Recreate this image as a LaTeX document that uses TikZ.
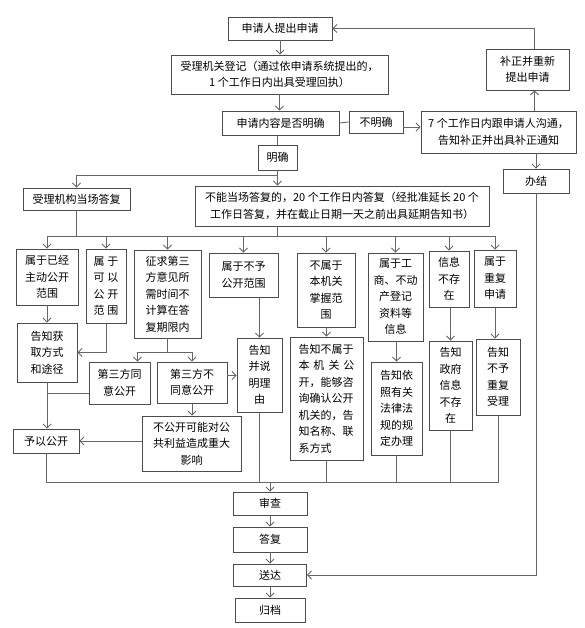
\documentclass[tikz,border=0pt]{standalone}
\usepackage{fontspec}
\newfontfamily\cjk{Noto Sans CJK SC}
\usetikzlibrary{arrows.meta,positioning,calc}

\begin{document}
\begin{tikzpicture}[
    x=1pt, y=-1pt,
    % box and connector styles
    box/.style={rectangle, draw=black!70, line width=0.9pt, fill=white, inner sep=0pt, align=center, font=\cjk\fontsize{11}{16.5}\selectfont},
    link/.style={draw=black!60, line width=0.9pt},
    flow/.style={link, -{Straight Barb[length=4pt, width=8pt]}}
]
\useasboundingbox (0,0) rectangle (585,628);

% Application and registration
\node[box, minimum width=104pt, minimum height=23pt] (apply) at (280,28.5) {申请人提出申请};
\node[box, minimum width=217pt, minimum height=39pt] (register) at (279.5,74.5) {受理机关登记（通过依申请系统提出的，\\1 个工作日内出具受理回执）};
\node[box, minimum width=117pt, minimum height=24pt] (clear) at (280.5,123) {申请内容是否明确};
\node[box, minimum width=54pt, minimum height=22pt] (unclear) at (376,122) {不明确};
\node[box, minimum width=155pt, minimum height=42pt] (notify7) at (498.5,132) {7 个工作日内跟申请人沟通，\\告知补正并出具补正通知};
\node[box, minimum width=83pt, minimum height=41pt] (resubmit) at (527.5,69.5) {补正并重新\\提出申请};
\node[box, minimum width=66pt, minimum height=24pt] (close) at (536,181) {办结};
\node[box, minimum width=39pt, minimum height=25pt] (yes) at (277.5,157.5) {明确};

% Answer on the spot or later
\node[box, minimum width=107pt, minimum height=22pt] (spot) at (76.5,199) {受理机构当场答复};
\node[box, minimum width=294pt, minimum height=40pt] (later) at (342,206) {不能当场答复的，20 个工作日内答复（经批准延长 20 个\\工作日答复，并在截止日期一天之前出具延期告知书）};

% Cases
\node[box, minimum width=62pt, minimum height=56pt] (b1) at (47,277) {属于已经\\主动公开\\范围};
\node[box, minimum width=40pt, minimum height=74pt] (b2) at (106,286) {属\hspace{3pt}于\\可\hspace{3pt}以\\公\hspace{3pt}开\\范\hspace{3pt}围};
\node[box, minimum width=67pt, minimum height=88pt] (b3) at (167.5,294) {征求第三\\方意见所\\需时间不\\计算在答\\复期限内};
\node[box, minimum width=69pt, minimum height=44pt] (b4) at (243.5,275) {属于不予\\公开范围};
\node[box, minimum width=58pt, minimum height=74pt] (b5) at (326,290) {不属于\\本机关\\掌握范\\围};
\node[box, minimum width=55pt, minimum height=88pt] (b6) at (395.5,297) {属于工\\商、不动\\产登记\\资料等\\信息};
\node[box, minimum width=40pt, minimum height=56pt] (b7) at (449,279) {信息\\不存\\在};
\node[box, minimum width=42pt, minimum height=57pt] (b8) at (495,278.5) {属于\\重复\\申请};

% Replies to each case
\node[box, minimum width=60pt, minimum height=59pt] (c1) at (47,352.5) {告知获\\取方式\\和途径};
\node[box, minimum width=45pt, minimum height=74pt] (c4) at (259.5,375) {告知\\并说\\明理\\由};
\node[box, minimum width=73pt, minimum height=123pt, text width=56pt, align=left] (c5) at (326.5,398.5) {告知不属于\\本\hfill 机\hfill 关\hfill 公\\开，能够咨\\询确认公开\\机关的，告\\知名称、联\\系方式};
\node[box, minimum width=51pt, minimum height=93pt] (c6) at (396.5,408.5) {告知依\\照有关\\法律法\\规的规\\定办理};
\node[box, minimum width=43pt, minimum height=89pt] (c7) at (450.5,385.5) {告知\\政府\\信息\\不存\\在};
\node[box, minimum width=44pt, minimum height=76pt] (c8) at (498,377) {告知\\不予\\重复\\受理};

% Third party opinion
\node[box, minimum width=61pt, minimum height=42pt] (agree) at (119.5,383) {第三方同\\意公开};
\node[box, minimum width=70pt, minimum height=41pt] (disagree) at (192,382.5) {第三方不\\同意公开};
\node[box, minimum width=99pt, minimum height=55pt] (impact) at (191.5,443.5) {不公开可能对公\\共利益造成重大\\影响};
\node[box, minimum width=66pt, minimum height=24pt] (publish) at (46,441) {予以公开};

% Final steps
\node[box, minimum width=74pt, minimum height=23pt] (review) at (270,503.5) {审查};
\node[box, minimum width=74pt, minimum height=25pt] (reply) at (270,539.5) {答复};
\node[box, minimum width=73pt, minimum height=22pt] (deliver) at (270,575) {送达};
\node[box, minimum width=70pt, minimum height=24pt] (archive) at (270,610) {归档};

% Top flow
\draw[flow] (apply.south) -- (apply.south |- register.north);
\draw[flow] (register.south) -- (register.south |- clear.north);
\draw[link] (clear.east) -- (unclear.west);
\draw[flow] ([yshift=-5pt]unclear.east) -- ([yshift=-5pt]unclear.east -| notify7.west);
\draw[flow] ([xshift=7pt]resubmit.south |- notify7.north) -- ([xshift=7pt]resubmit.south);
\draw[flow] ([xshift=7pt]resubmit.north) |- (apply.east);
\draw[flow] (close.north |- notify7.south) -- (close.north);
\draw[flow] (close.south) |- (deliver.east);

% Split after clear content
\coordinate (split1) at (277.5,175);
\draw[link] (yes.north |- clear.south) -- (yes.north);
\draw[link] (yes.south) -- (split1);
\draw[flow] (split1) -| (spot.north);
\draw[flow] (split1) -- (split1 |- later.north);

% Branch bus to the cases
\coordinate (bus1) at (47,236);
\draw[link] (bus1) -- (bus1 -| b8.north);
\draw[link] (spot.south) -- (spot.south |- bus1);
\draw[link] (split1 |- later.south) -- (split1 |- bus1);
\draw[flow] (b1.north |- bus1) -- (b1.north);
\draw[flow] (b2.north |- bus1) -- (b2.north);
\draw[flow] (b3.north |- bus1) -- (b3.north);
\draw[flow] (b4.north |- bus1) -- (b4.north);
\draw[flow] (b5.north |- bus1) -- (b5.north);
\draw[flow] (b6.north |- bus1) -- (b6.north);
\draw[flow] (b7.north |- bus1) -- (b7.north);
\draw[flow] (b8.north |- bus1) -- (b8.north);

% Case to reply
\draw[flow] (b1.south) -- (b1.south |- c1.north);
\draw[flow] (b2.south) |- (c1.east);
\draw[flow] (c4.north |- b4.south) -- (c4.north);
\draw[flow] (c5.north |- b5.south) -- (c5.north);
\draw[flow] (c6.north |- b6.south) -- (c6.north);
\draw[flow] (c7.north |- b7.south) -- (c7.north);
\draw[flow] (b8.south) -- (b8.south |- c8.north);

% Third party branch
\coordinate (split3) at (167.5,352);
\draw[link] (b3.south) -- (split3);
\draw[link] ([xshift=18pt]agree.north |- split3) -- (disagree.north |- split3);
\draw[flow] ([xshift=18pt]agree.north |- split3) -- ([xshift=18pt]agree.north);
\draw[flow] (disagree.north |- split3) -- (disagree.north);
\draw[flow] ([yshift=7pt]disagree.east) -- ([yshift=7pt]disagree.east -| c4.west);
\draw[flow] (disagree.south) -- (disagree.south |- impact.north);
\draw[flow] (impact.west |- publish.east) -- (publish.east);
\draw[flow] (c1.south) -- (c1.south |- publish.north);
\draw[link] ([yshift=-10pt]agree.west) -- ([yshift=-10pt]agree.west -| c1.south);

% Bottom bus and final steps
\coordinate (bus2) at (270,482);
\draw[link] (publish.south) -- (publish.south |- bus2) -- (c8.south |- bus2) -- (c8.south);
\draw[link] (c4.south) -- (c4.south |- bus2);
\draw[link] (c5.south) -- (c5.south |- bus2);
\draw[link] (c6.south) -- (c6.south |- bus2);
\draw[link] (c7.south) -- (c7.south |- bus2);
\draw[flow] (bus2) -- (review.north);
\draw[flow] (review.south) -- (reply.north);
\draw[flow] (reply.south) -- (deliver.north);
\draw[flow] (deliver.south) -- (archive.north);

\end{tikzpicture}
\end{document}
